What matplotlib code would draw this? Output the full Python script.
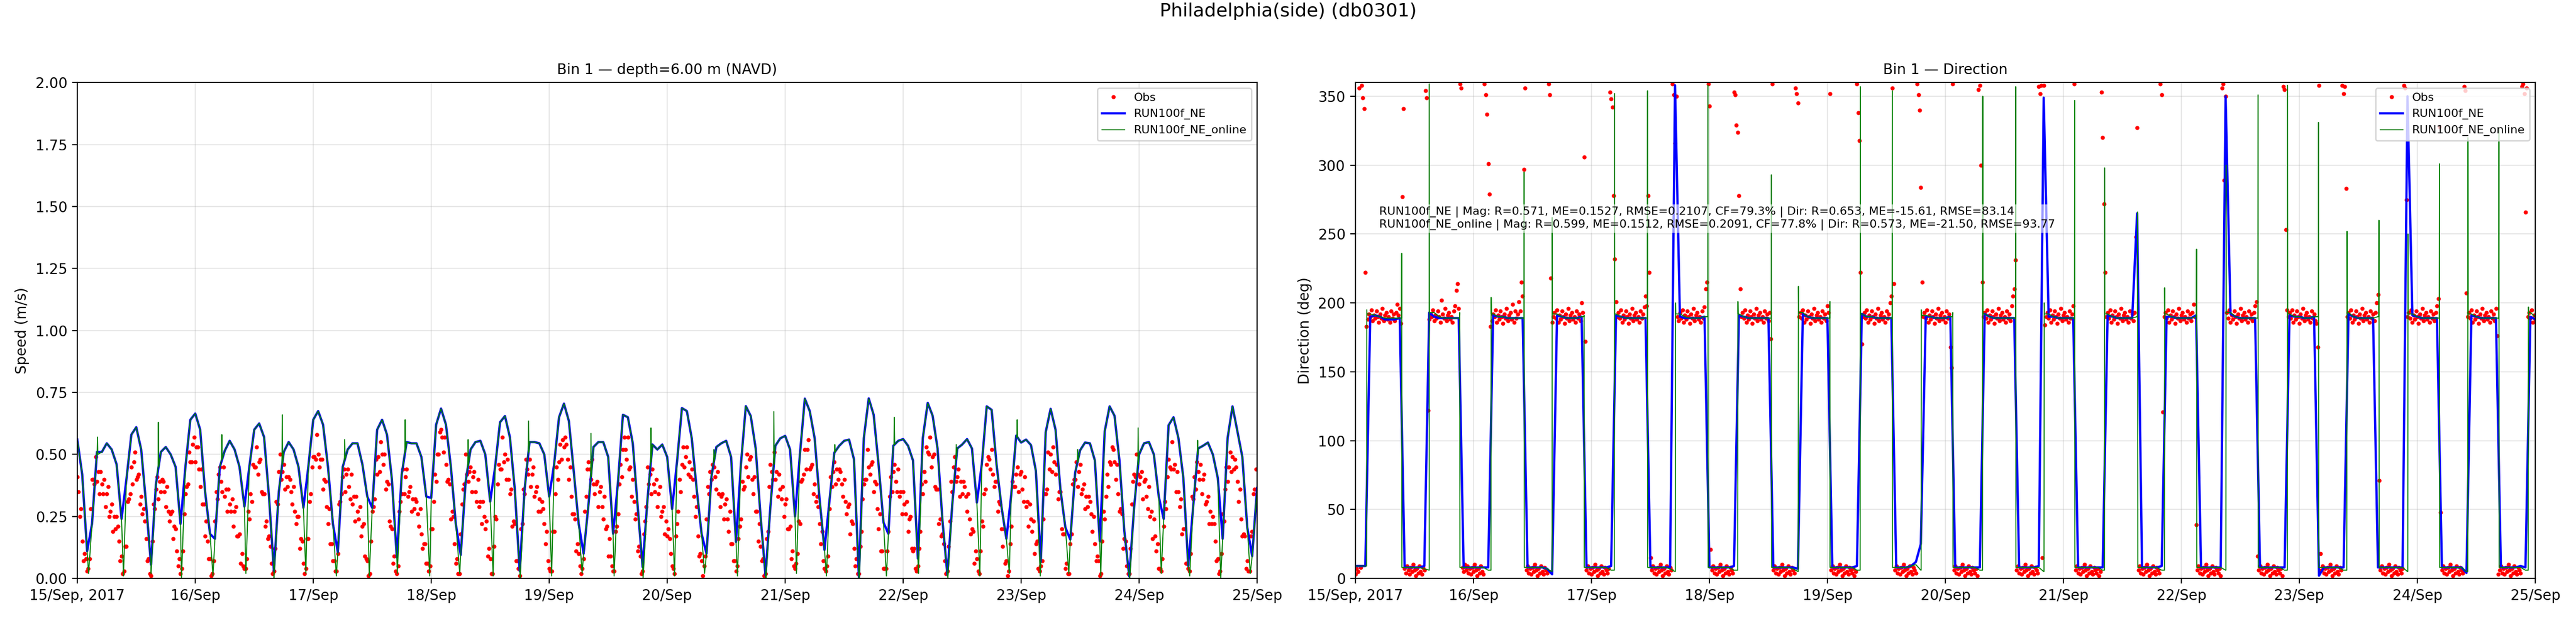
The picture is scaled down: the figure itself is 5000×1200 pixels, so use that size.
import numpy as np
import matplotlib.pyplot as plt

t0 = np.datetime64('2017-09-15T00:00:00')
day_labels = ['15/Sep, 2017', '16/Sep', '17/Sep', '18/Sep', '19/Sep', '20/Sep',
              '21/Sep', '22/Sep', '23/Sep', '24/Sep', '25/Sep']

# slack-water times (hours after 15/Sep 00:00)
slack_h = [2.3, 9.4, 15.0, 21.2, 27.6, 34.3, 40.0, 46.5, 52.7, 59.4, 65.1, 71.7, 77.8,
           84.6, 90.1, 96.5, 102.7, 109.2, 115.1, 121.5, 127.6, 134.3, 140.1, 146.3,
           152.4, 159.1, 164.6, 171.1, 177.1, 183.6, 189.6, 195.9, 201.7, 208.2, 214.1,
           220.5, 226.3, 232.6, 238.6]

# hourly model speed (m/s); both runs coincide at the hourly output times
model_spd = [
    0.56, 0.42, 0.11, 0.22, 0.51, 0.51, 0.545, 0.52, 0.46, 0.24,
    0.40, 0.58, 0.61, 0.52, 0.30, 0.055, 0.38, 0.51, 0.53, 0.50,
    0.45, 0.22, 0.45, 0.64, 0.665, 0.60, 0.35, 0.18, 0.16, 0.45,
    0.515, 0.555, 0.52, 0.45, 0.29, 0.45, 0.60, 0.625, 0.57, 0.33,
    0.03, 0.35, 0.51, 0.55, 0.52, 0.45, 0.285, 0.45, 0.64, 0.675,
    0.62, 0.45, 0.22, 0.106, 0.45, 0.52, 0.545, 0.545, 0.46, 0.33,
    0.285, 0.60, 0.64, 0.58, 0.40, 0.085, 0.42, 0.55, 0.545, 0.545,
    0.49, 0.33, 0.325, 0.62, 0.685, 0.62, 0.45, 0.22, 0.095, 0.39,
    0.52, 0.55, 0.555, 0.50, 0.31, 0.45, 0.63, 0.655, 0.57, 0.36,
    0.03, 0.36, 0.55, 0.55, 0.545, 0.50, 0.33, 0.46, 0.65, 0.705,
    0.635, 0.43, 0.22, 0.10, 0.30, 0.53, 0.55, 0.55, 0.49, 0.18,
    0.39, 0.66, 0.65, 0.545, 0.29, 0.046, 0.32, 0.54, 0.52, 0.54,
    0.49, 0.28, 0.47, 0.687, 0.675, 0.565, 0.36, 0.18, 0.10, 0.41,
    0.53, 0.545, 0.555, 0.49, 0.147, 0.46, 0.695, 0.655, 0.525, 0.25,
    0.012, 0.29, 0.535, 0.565, 0.575, 0.52, 0.25, 0.50, 0.725, 0.675,
    0.565, 0.32, 0.115, 0.31, 0.507, 0.535, 0.555, 0.56, 0.48, 0.005,
    0.566, 0.726, 0.66, 0.46, 0.226, 0.18, 0.535, 0.555, 0.562, 0.535,
    0.476, 0.08, 0.566, 0.708, 0.656, 0.524, 0.233, 0.015, 0.30, 0.524,
    0.54, 0.562, 0.524, 0.306, 0.46, 0.694, 0.68, 0.46, 0.29, 0.16,
    0.34, 0.576, 0.548, 0.56, 0.538, 0.434, 0.067, 0.59, 0.684, 0.60,
    0.358, 0.206, 0.157, 0.427, 0.517, 0.548, 0.545, 0.476, 0.15, 0.593,
    0.694, 0.656, 0.476, 0.19, 0.008, 0.29, 0.50, 0.545, 0.55, 0.50,
    0.33, 0.24, 0.618, 0.65, 0.566, 0.406, 0.05, 0.29, 0.524, 0.535,
    0.548, 0.50, 0.406, 0.16, 0.566, 0.694, 0.593, 0.49, 0.206, 0.09,
    0.365]

# hourly direction (deg) of RUN100f_NE
ne_dir = [
    9, 9, 9, 190, 191, 190, 188, 188, 188, 189,
    8, 8, 8, 8, 9, 193, 190, 189, 189, 189,
    189, 189, 8, 8, 8, 8, 8, 8, 191, 190,
    190, 189, 189, 189, 189, 8, 8, 8, 8, 7,
    3, 191, 190, 189, 189, 189, 190, 8, 8, 8,
    8, 8, 9, 191, 190, 189, 189, 189, 189, 189,
    8, 8, 8, 8, 8, 358, 190, 189, 189, 189,
    189, 190, 8, 8, 8, 8, 8, 9, 191, 190,
    189, 189, 189, 189, 189, 8, 8, 8, 8, 8,
    7, 192, 190, 189, 189, 189, 189, 8, 8, 8,
    8, 8, 9, 192, 190, 190, 189, 189, 189, 189,
    8, 8, 8, 9, 12, 25, 190, 190, 189, 189,
    189, 190, 8, 8, 8, 8, 8, 8, 192, 190,
    189, 189, 189, 189, 189, 8, 8, 8, 8, 9,
    349, 190, 190, 189, 189, 189, 189, 8, 8, 8,
    8, 8, 8, 191, 190, 189, 189, 189, 189, 265,
    8, 8, 8, 8, 9, 190, 190, 189, 189, 189,
    189, 191, 8, 8, 8, 8, 8, 350, 192, 190,
    189, 189, 189, 189, 8, 8, 8, 8, 8, 8,
    191, 190, 190, 189, 189, 190, 2, 8, 8, 8,
    8, 8, 192, 190, 189, 189, 189, 189, 8, 8,
    8, 8, 8, 8, 350, 191, 190, 189, 189, 189,
    189, 8, 8, 8, 8, 8, 4, 191, 190, 189,
    189, 189, 189, 8, 8, 8, 8, 9, 8, 190,
    188]

# hourly direction (deg) of RUN100f_NE_online
online_dir = [
    9, 9, 9, 192, 191, 190, 189, 189, 189, 189,
    8, 8, 8, 8, 7, 6, 193, 190, 189, 189,
    189, 189, 8, 8, 8, 8, 8, 6, 192, 190,
    190, 189, 189, 189, 189, 8, 8, 8, 8, 7,
    5, 192, 190, 189, 189, 189, 190, 8, 8, 8,
    8, 8, 6, 192, 190, 189, 189, 189, 189, 189,
    8, 8, 8, 8, 7, 5, 192, 190, 189, 189,
    189, 190, 8, 8, 8, 8, 8, 6, 192, 190,
    189, 189, 189, 189, 189, 8, 8, 8, 8, 7,
    5, 193, 190, 189, 189, 189, 189, 8, 8, 8,
    8, 8, 6, 192, 190, 190, 189, 189, 189, 189,
    8, 8, 8, 9, 10, 6, 191, 190, 189, 189,
    189, 190, 8, 8, 8, 8, 8, 6, 192, 190,
    189, 189, 189, 189, 189, 8, 8, 8, 8, 8,
    5, 192, 190, 189, 189, 189, 189, 8, 8, 8,
    8, 8, 6, 192, 190, 189, 189, 189, 189, 190,
    8, 8, 8, 8, 6, 192, 190, 189, 189, 189,
    189, 190, 8, 8, 8, 8, 8, 6, 193, 190,
    189, 189, 189, 189, 8, 8, 8, 8, 8, 6,
    192, 190, 190, 189, 189, 190, 8, 8, 8, 8,
    8, 6, 193, 190, 189, 189, 189, 189, 190, 8,
    8, 8, 8, 8, 5, 192, 190, 189, 189, 189,
    189, 8, 8, 8, 8, 8, 5, 192, 190, 189,
    189, 189, 189, 8, 8, 8, 8, 8, 6, 193,
    190]

# online run: speed at each slack, short speed spikes, direction spikes at slack
online_slack_spd = [0.02, 0.01, 0.02, 0.0, 0.01, 0.02, 0.0, 0.02, 0.01, 0.01, 0.02, 0.01, 0.02,
                    0.01, 0.0, 0.01, 0.02, 0.01, 0.0, 0.01, 0.02, 0.01, 0.0, 0.02, 0.01,
                    0.0, 0.01, 0.02, 0.0, 0.01, 0.02, 0.01, 0.02, 0.01, 0.0, 0.02, 0.01,
                    0.0, 0.02]
online_spk_t = [4.1, 16.5, 29.4, 41.7, 54.4, 66.7, 79.5, 91.8, 104.5, 116.7, 129.5, 141.7,
                154.1, 166.2, 178.8, 191.2, 203.5, 215.8, 227.9]
online_spk_v = [0.57, 0.63, 0.58, 0.66, 0.56, 0.64, 0.56, 0.635, 0.585, 0.607, 0.52, 0.673,
                0.54, 0.65, 0.54, 0.64, 0.52, 0.607, 0.557]
online_spk_base = [0.50, 0.45, 0.48, 0.46, 0.48, 0.51, 0.455, 0.51, 0.41, 0.47, 0.47, 0.46,
                   0.51, 0.54, 0.48, 0.57, 0.47, 0.46, 0.50]
online_dir_spike = [195, 236, 359, 193, 204, 295, 262, 191, 352, 354, 200, 358, 201, 293,
                    212, 201, 357, 354, 195, 193, 350, 357, 200, 347, 298, 266, 211, 239,
                    300, 351, 358, 331, 252, 260, 250, 301, 320, 326, 197]

# observed speed (cm/s), 15-min samples, one row per half tide starting at each slack
obs_spd_cm = [
    [41, 35, 25, 28, 15, 7, 10, 8, 3],
    [4, 8, 28, 40, 40, 38, 49, 39, 43, 34, 43, 38, 34, 40, 29, 34, 37, 25, 27, 30, 19, 25, 20, 25, 21, 15, 7, 9, 2],
    [3, 13, 13, 31, 32, 34, 45, 38, 47, 51, 40, 41, 42, 30, 33, 26, 28, 23, 16, 7, 8, 2],
    [1, 15, 30, 28, 36, 41, 32, 39, 35, 40, 39, 35, 29, 37, 27, 23, 26, 27, 16, 21, 20, 11, 5, 8, 2],
    [4, 11, 26, 34, 37, 38, 51, 47, 47, 54, 57, 47, 53, 53, 44, 37, 44, 30, 30, 17, 23, 15, 8, 8, 1],
    [2, 7, 23, 35, 32, 42, 45, 39, 35, 45, 33, 36, 27, 36, 30, 27, 32, 21, 27, 29, 17, 17, 18, 6, 10, 5, 4],
    [4, 8, 27, 24, 34, 31, 46, 45, 45, 53, 42, 47, 48, 35, 34, 34, 21, 23, 16, 17, 13, 6, 2],
    [3, 12, 31, 30, 43, 50, 40, 43, 46, 36, 41, 37, 41, 40, 35, 30, 37, 27, 22, 25, 25, 12, 16, 15, 6, 2],
    [4, 16, 16, 31, 34, 45, 49, 49, 48, 58, 50, 45, 48, 48, 36, 40, 39, 29, 22, 28, 14, 14, 7, 7, 3],
    [3, 10, 30, 31, 34, 41, 44, 35, 42, 44, 37, 32, 42, 30, 33, 23, 33, 27, 24, 29, 17, 21, 22, 9, 8, 7, 1],
    [2, 15, 27, 29, 32, 48, 42, 49, 43, 55, 50, 46, 50, 36, 39, 38, 23, 21, 20, 6, 9, 3],
    [2, 5, 27, 31, 34, 44, 34, 41, 44, 33, 35, 37, 27, 32, 28, 32, 31, 26, 21, 28, 18, 12, 14, 14, 6, 6, 3],
    [5, 20, 20, 31, 42, 39, 50, 50, 59, 60, 57, 51, 57, 46, 39, 40, 38, 24, 27, 25, 14, 6, 8, 2],
    [2, 18, 30, 36, 38, 50, 42, 39, 43, 45, 35, 41, 43, 35, 31, 40, 29, 31, 22, 31, 25, 20, 23, 9, 12, 8, 2],
    [2, 13, 25, 24, 38, 46, 44, 44, 57, 47, 50, 40, 48, 40, 34, 36, 21, 23, 22, 7, 7, 4],
    [1, 20, 22, 36, 34, 48, 44, 42, 48, 37, 42, 45, 33, 35, 37, 27, 32, 27, 31, 28, 22, 14, 19, 7, 4, 3],
    [3, 19, 19, 34, 45, 40, 47, 54, 48, 56, 53, 57, 54, 48, 40, 45, 33, 26, 26, 24, 11, 14, 10, 5, 2],
    [4, 8, 27, 33, 44, 47, 44, 40, 48, 38, 34, 38, 39, 29, 35, 37, 29, 24, 33, 20, 21, 9, 16, 9, 5, 3],
    [3, 19, 21, 26, 38, 46, 41, 52, 57, 52, 48, 57, 44, 45, 33, 40, 31, 24, 26, 11, 13, 9, 2],
    [3, 18, 23, 29, 45, 38, 42, 34, 44, 38, 35, 40, 29, 34, 37, 25, 27, 29, 18, 23, 17, 20, 16, 10, 5, 4],
    [2, 17, 22, 27, 40, 35, 46, 53, 45, 49, 53, 42, 47, 41, 44, 40, 33, 25, 29, 17, 9, 10, 7, 1],
    [5, 9, 24, 37, 34, 43, 40, 46, 45, 41, 36, 43, 34, 29, 33, 34, 24, 30, 32, 24, 19, 27, 14, 14, 7, 7, 3],
    [5, 16, 21, 24, 39, 36, 37, 45, 50, 41, 48, 49, 40, 34, 41, 27, 27, 15, 22, 13, 7, 8, 1],
    [2, 16, 19, 37, 46, 43, 40, 51, 40, 43, 33, 42, 36, 32, 37, 25, 30, 32, 20, 20, 21, 8, 11, 5, 4],
    [6, 10, 23, 22, 39, 40, 42, 52, 44, 52, 56, 44, 45, 46, 34, 38, 31, 33, 29, 22, 14, 19, 7, 4, 3],
    [5, 9, 28, 41, 37, 43, 47, 38, 44, 40, 44, 43, 38, 33, 40, 31, 26, 29, 30, 18, 23, 22, 12, 5, 8, 2],
    [2, 13, 19, 32, 38, 40, 40, 52, 45, 42, 46, 47, 35, 39, 38, 28, 20, 26, 11, 11, 4, 4],
    [4, 11, 19, 33, 41, 35, 43, 46, 39, 35, 44, 33, 35, 26, 35, 30, 26, 31, 19, 24, 25, 12, 11, 12, 4, 3],
    [5, 12, 19, 38, 34, 43, 39, 53, 51, 50, 57, 45, 49, 50, 37, 36, 36, 22, 24, 17, 18, 14, 7, 2],
    [3, 13, 23, 39, 35, 45, 49, 39, 41, 44, 33, 39, 34, 39, 37, 33, 27, 34, 24, 18, 20, 19, 6, 11, 8, 3],
    [2, 11, 23, 21, 34, 36, 46, 49, 48, 44, 52, 42, 37, 39, 39, 27, 31, 30, 20, 13, 20, 6, 7, 1],
    [3, 14, 21, 39, 37, 37, 42, 45, 35, 42, 43, 36, 31, 41, 29, 31, 21, 30, 24, 19, 23, 10, 14, 15, 4, 3],
    [5, 7, 24, 34, 34, 36, 51, 44, 50, 43, 53, 47, 42, 46, 32, 35, 35, 20, 18, 18, 4, 6, 2],
    [2, 14, 18, 38, 40, 40, 47, 37, 43, 46, 34, 36, 38, 28, 33, 29, 33, 31, 26, 19, 25, 14, 7, 9, 7, 1],
    [2, 15, 27, 24, 33, 42, 37, 47, 46, 53, 52, 47, 40, 46, 34, 27, 28, 26, 12, 16, 15, 5, 2],
    [2, 12, 30, 39, 42, 41, 50, 42, 38, 41, 43, 32, 39, 40, 33, 28, 37, 25, 27, 16, 24, 17, 11, 14, 4, 4],
    [3, 8, 21, 31, 28, 41, 48, 45, 44, 55, 44, 46, 35, 43, 35, 29, 32, 18, 20, 20, 6, 6, 4],
    [3, 10, 33, 32, 41, 36, 47, 43, 40, 46, 34, 40, 42, 30, 31, 33, 22, 27, 22, 25, 22, 15, 7, 8, 2],
    [3, 10, 26, 23, 36, 45, 39, 45, 51, 43, 49, 44, 48, 45, 39, 31, 36, 24, 17, 18, 17, 4, 7, 3],
    [3, 17, 19, 34, 36, 44, 44],
]

# observed direction (deg), same samples
obs_dir = [
    [3, 7, 5, 356, 8, 358, 349, 341, 222],
    [183, 188, 192, 190, 195, 187, 191, 189, 194, 190, 186, 192, 189, 196, 187, 191, 193, 188, 190, 186, 194, 189, 192, 187, 193, 199, 191, 196, 185],
    [277, 341, 7, 4, 9, 6, 3, 8, 5, 10, 6, 2, 7, 4, 9, 5, 3, 8, 6, 354, 349, 122],
    [188, 192, 190, 195, 187, 191, 189, 194, 190, 186, 202, 192, 189, 196, 187, 191, 193, 188, 190, 186, 194, 198, 209, 214, 196],
    [359, 356, 8, 5, 10, 6, 9, 4, 7, 3, 8, 5, 10, 6, 2, 7, 4, 9, 5, 3, 359, 351, 337, 301, 279],
    [183, 187, 192, 190, 195, 186, 191, 188, 194, 190, 185, 192, 189, 196, 187, 191, 193, 188, 199, 186, 194, 189, 192, 201, 194, 215, 205],
    [297, 356, 6, 9, 4, 7, 3, 8, 5, 10, 6, 2, 7, 4, 9, 5, 3, 8, 6, 4, 359, 351, 218],
    [186, 190, 193, 189, 195, 186, 191, 188, 194, 190, 185, 192, 189, 196, 187, 191, 193, 188, 190, 186, 194, 189, 192, 187, 200, 193],
    [306, 172, 6, 9, 4, 7, 3, 8, 5, 10, 6, 2, 7, 4, 9, 5, 3, 8, 6, 4, 7, 353, 348, 342, 278],
    [232, 201, 190, 193, 189, 195, 186, 191, 188, 194, 190, 185, 192, 189, 196, 187, 191, 193, 188, 190, 186, 194, 189, 192, 197, 205, 198],
    [278, 222, 15, 6, 9, 4, 7, 3, 8, 5, 10, 6, 2, 7, 4, 9, 5, 3, 8, 6, 359, 351],
    [316, 350, 190, 187, 193, 189, 195, 186, 191, 188, 194, 190, 185, 192, 189, 196, 187, 191, 193, 188, 190, 186, 194, 189, 197, 210, 215],
    [359, 343, 21, 6, 9, 4, 7, 3, 8, 5, 10, 6, 2, 7, 4, 9, 5, 3, 8, 6, 4, 353, 351, 329],
    [324, 278, 210, 190, 193, 189, 195, 186, 191, 188, 194, 190, 185, 192, 189, 196, 187, 191, 193, 188, 190, 186, 194, 189, 192, 187, 193],
    [174, 359, 6, 9, 4, 7, 3, 8, 5, 10, 6, 2, 7, 4, 9, 5, 3, 8, 6, 4, 356, 352],
    [345, 190, 193, 189, 195, 186, 191, 188, 194, 190, 185, 192, 189, 196, 187, 191, 193, 188, 190, 186, 194, 189, 192, 187, 198, 193],
    [352, 6, 9, 4, 7, 3, 8, 5, 10, 6, 2, 7, 4, 9, 5, 3, 8, 6, 4, 7, 2, 5, 359, 338, 318],
    [222, 170, 190, 193, 189, 195, 186, 191, 188, 194, 190, 185, 192, 189, 196, 187, 191, 193, 188, 190, 186, 194, 189, 192, 200, 205],
    [356, 214, 6, 9, 4, 7, 3, 8, 5, 10, 6, 2, 7, 4, 9, 5, 3, 8, 6, 4, 359, 351, 340],
    [284, 215, 190, 193, 189, 195, 186, 191, 188, 194, 190, 185, 192, 189, 196, 187, 191, 193, 188, 190, 186, 194, 189, 192, 168, 153],
    [359, 6, 9, 4, 7, 3, 8, 5, 10, 6, 2, 7, 4, 9, 5, 3, 8, 6, 4, 7, 2, 355, 358, 300],
    [215, 190, 193, 189, 195, 186, 191, 188, 194, 190, 185, 192, 189, 196, 187, 191, 193, 188, 190, 186, 194, 189, 192, 187, 198, 205, 210],
    [231, 6, 9, 4, 7, 3, 8, 5, 10, 6, 2, 7, 4, 9, 5, 3, 8, 6, 4, 357, 352, 358, 15],
    [358, 184, 190, 193, 189, 195, 186, 191, 188, 194, 190, 185, 192, 189, 196, 187, 191, 193, 188, 190, 186, 194, 189, 192, 198],
    [359, 6, 9, 4, 7, 3, 8, 5, 10, 6, 2, 7, 4, 9, 5, 3, 8, 6, 4, 7, 2, 5, 353, 320, 272],
    [222, 190, 193, 189, 195, 186, 191, 188, 194, 190, 185, 192, 189, 196, 187, 191, 193, 188, 190, 186, 194, 189, 192, 187, 193, 248],
    [327, 6, 9, 4, 7, 3, 8, 5, 10, 6, 2, 7, 4, 9, 5, 3, 8, 6, 4, 359, 351, 121],
    [190, 193, 189, 195, 186, 191, 188, 194, 190, 185, 192, 189, 196, 187, 191, 193, 188, 190, 186, 194, 189, 192, 187, 193, 199, 190],
    [39, 6, 9, 4, 7, 3, 8, 5, 10, 6, 2, 7, 4, 9, 5, 3, 8, 6, 4, 7, 2, 356, 359, 289],
    [350, 193, 189, 195, 186, 191, 188, 194, 190, 185, 192, 189, 196, 187, 191, 193, 188, 190, 186, 194, 189, 192, 187, 193, 198, 201],
    [16, 6, 9, 4, 7, 3, 8, 5, 10, 6, 2, 7, 4, 9, 5, 3, 8, 6, 4, 7, 2, 357, 355, 253],
    [195, 190, 193, 189, 195, 186, 191, 188, 194, 190, 185, 192, 189, 196, 187, 191, 193, 188, 190, 186, 194, 189, 192, 187, 185, 168],
    [358, 18, 6, 9, 4, 7, 3, 8, 5, 10, 6, 2, 7, 4, 9, 5, 3, 8, 6, 358, 352, 357, 283],
    [190, 193, 189, 195, 186, 191, 188, 194, 190, 185, 192, 189, 196, 187, 191, 193, 188, 190, 186, 194, 189, 192, 187, 193, 200, 206],
    [71, 6, 9, 4, 7, 3, 8, 5, 10, 6, 2, 7, 4, 9, 5, 3, 8, 6, 4, 7, 358, 356, 275],
    [190, 193, 189, 195, 186, 191, 188, 194, 190, 185, 192, 189, 196, 187, 191, 193, 188, 190, 186, 194, 189, 192, 187, 193, 198, 203],
    [328, 48, 6, 9, 4, 7, 3, 8, 5, 10, 6, 2, 7, 4, 9, 5, 3, 8, 6, 4, 357, 354, 207],
    [190, 193, 189, 195, 186, 191, 188, 194, 190, 185, 192, 189, 196, 187, 191, 193, 188, 190, 186, 194, 189, 192, 187, 196, 176],
    [3, 6, 9, 4, 7, 3, 8, 5, 10, 6, 2, 7, 4, 9, 5, 3, 8, 6, 4, 357, 359, 352, 266, 356],
    [190, 193, 189, 195, 186, 191, 188],
]

stats_text = ("RUN100f_NE | Mag: R=0.571, ME=0.1527, RMSE=0.2107, CF=79.3% | Dir: R=0.653, ME=-15.61, RMSE=83.14\n"
              "RUN100f_NE_online | Mag: R=0.599, ME=0.1512, RMSE=0.2091, CF=77.8% | Dir: R=0.573, ME=-21.50, RMSE=93.77")


def to_time(hours):
    secs = np.round(np.asarray(hours, dtype=float) * 3600).astype(np.int64)
    return t0 + secs.astype('timedelta64[s]')


hours = np.arange(len(model_spd), dtype=float)
slack = np.array(slack_h)

# observation times: 15-min samples from each slack
seg_start = np.round(np.array([0.0] + slack_h) * 4) / 4
obs_t, obs_s, obs_d = [], [], []
for st, sp, dr in zip(seg_start, obs_spd_cm, obs_dir):
    n = min(len(sp), len(dr))
    obs_t.append(st + 0.25 * np.arange(n))
    obs_s.append(np.array(sp[:n]) / 100.0)
    obs_d.append(np.array(dr[:n], dtype=float))
obs_t = to_time(np.concatenate(obs_t))
obs_s = np.concatenate(obs_s)
obs_d = np.concatenate(obs_d)

# online run speed: hourly values plus slack minima and short spikes
spk_t = np.array(online_spk_t)
g_t = np.concatenate([hours, slack, spk_t - 0.06, spk_t, spk_t + 0.08])
g_v = np.concatenate([model_spd, online_slack_spd, online_spk_base, online_spk_v, online_spk_base])
o = np.argsort(g_t, kind='stable')
g_t, g_v = g_t[o], g_v[o]

# online run direction: hourly values plus the jump at each slack
od = np.array(online_dir, dtype=float)
i0 = np.floor(slack).astype(int)
gd_t = np.concatenate([hours, slack - 0.04, slack, slack + 0.04])
gd_v = np.concatenate([od, od[i0], online_dir_spike, od[i0 + 1]])
o = np.argsort(gd_t, kind='stable')
gd_t, gd_v = gd_t[o], gd_v[o]

fig = plt.figure(figsize=(25, 6), dpi=200)
ax1 = fig.add_axes([0.030, 0.064, 0.458, 0.8025])
ax2 = fig.add_axes([0.5262, 0.064, 0.458, 0.8025])

day_ticks = to_time(np.arange(0, 241, 24))

ax1.plot(obs_t, obs_s, '.', color='red', ms=3.8, label='Obs')
ax1.plot(to_time(hours), model_spd, color='blue', lw=1.6, label='RUN100f_NE')
ax1.plot(to_time(g_t), g_v, color='green', lw=0.7, label='RUN100f_NE_online')
ax1.set_ylim(0, 2)
ax1.set_yticks(np.arange(0, 2.01, 0.25))
ax1.set_yticklabels(['%.2f' % v for v in np.arange(0, 2.01, 0.25)])
ax1.set_ylabel('Speed (m/s)')
ax1.set_title('Bin 1 \u2014 depth=6.00 m (NAVD)', fontsize=10)

ax2.plot(obs_t, obs_d, '.', color='red', ms=3.8, label='Obs')
ax2.plot(to_time(hours), ne_dir, color='blue', lw=1.6, label='RUN100f_NE')
ax2.plot(to_time(gd_t), gd_v, color='green', lw=0.7, label='RUN100f_NE_online')
ax2.set_ylim(0, 360)
ax2.set_yticks(np.arange(0, 351, 50))
ax2.set_ylabel('Direction (deg)')
ax2.set_title('Bin 1 \u2014 Direction', fontsize=10)
ax2.text(0.02, 0.75, stats_text, transform=ax2.transAxes, fontsize=8, va='top', ha='left',
         bbox=dict(boxstyle='square,pad=0.2', facecolor='white', edgecolor='none', alpha=0.6))

for ax in (ax1, ax2):
    ax.set_xlim(day_ticks[0], day_ticks[-1])
    ax.set_xticks(day_ticks)
    ax.set_xticklabels(day_labels)
    ax.grid(True, alpha=0.3)
    ax.legend(loc='upper right', fontsize=8)

fig.suptitle('Philadelphia(side) (db0301)', fontsize=13, y=0.996, va='top')
fig.savefig('out.png', dpi=200)
